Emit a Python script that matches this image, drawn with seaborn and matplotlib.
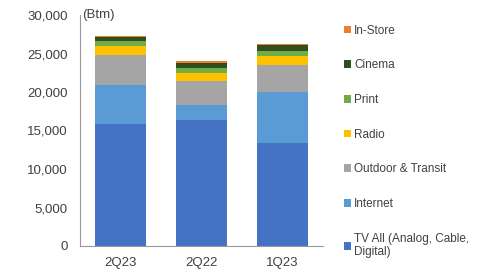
"""
plot.py

Stacked ad spend by media, three quarters.
"""

import numpy as np
import pandas as pd
import matplotlib
matplotlib.use("Agg")
import matplotlib.pyplot as plt
import seaborn as sns

quarters = ["2Q23", "2Q22", "1Q23"]

tv_all = [15800, 16400, 13400]
internet = [5150, 1950, 6600]
outdoor = [3900, 3100, 3550]
radio = [1080, 1000, 1150]
printed = [650, 650, 650]
cinema = [550, 650, 780]
in_store = [200, 260, 130]

media = ["TV All (Analog, Cable,\nDigital)", "Internet", "Outdoor & Transit",
         "Radio", "Print", "Cinema", "In-Store"]
series = [tv_all, internet, outdoor, radio, printed, cinema, in_store]
colors = ["#4472C4", "#5B9BD5", "#A5A5A5", "#FFC000", "#70AD47", "#2F4F1F", "#ED7D31"]

sns.set_style("white")
plt.rcParams["font.family"] = ["Liberation Sans", "DejaVu Sans"]

fig = plt.figure(figsize=(4.81, 2.71), dpi=100)
ax = fig.add_axes([80 / 481, 25 / 271, 243 / 481, 231 / 271])

cumulative = np.cumsum(np.array(series), axis=0)

# draw tallest stack first, each lower layer on top of it
for i in range(len(series) - 1, -1, -1):
    df = pd.DataFrame({"quarter": quarters, "value": cumulative[i]})
    sns.barplot(data=df, x="quarter", y="value", color=colors[i],
                width=0.64, saturation=1, linewidth=0, ax=ax, label=media[i])

handles, labels = ax.get_legend_handles_labels()
if ax.get_legend() is not None:
    ax.get_legend().remove()

ax.set_ylim(0, 30000)
ax.set_xlim(-0.5, 2.5)
ax.set_yticks(range(0, 30001, 5000))
ax.yaxis.set_major_formatter(matplotlib.ticker.FuncFormatter(lambda v, p: f"{int(v):,}"))
ax.set_xlabel("")
ax.set_ylabel("")
ax.tick_params(axis="both", length=0, labelsize=9.5, colors="#404040")
ax.tick_params(axis="y", pad=9)
ax.tick_params(axis="x", pad=8)
for side in ["top", "right"]:
    ax.spines[side].set_visible(False)
for side in ["left", "bottom"]:
    ax.spines[side].set_color("#999999")
    ax.spines[side].set_linewidth(0.8)

ax.text(0.008, 1.0, "(Btm)", transform=ax.transAxes, fontsize=9.5,
        color="#404040", va="center", ha="left")

fig.legend(handles, labels, loc="upper left", bbox_to_anchor=(333 / 481, 1 - 14 / 271),
           frameon=False, fontsize=8.5, labelcolor="#404040", handlelength=0.6,
           handleheight=0.6, handletextpad=0.3, labelspacing=1.92)

fig.savefig("out.png", dpi=100)
